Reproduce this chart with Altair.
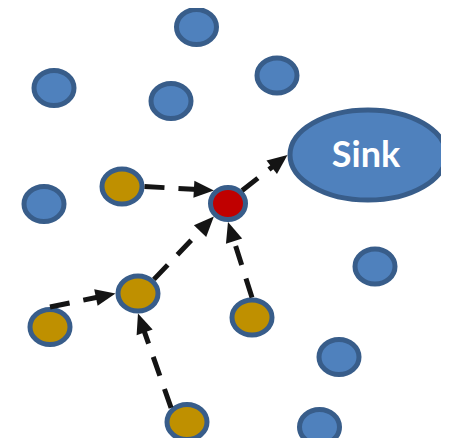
import math
import altair as alt
import pandas as pd

# ---- data (image pixel coordinates of node centres) ----
blue_x = [196.5, 54, 171, 277, 44, 375, 339, 319.5]
blue_y = [27, 88, 101, 75.5, 204, 266.5, 357, 427]
gold_x = [122, 138, 50, 252, 187]
gold_y = [186.5, 293.5, 327, 317.5, 422]
red_x = [228]
red_y = [203.5]
sink_x = [368]
sink_y = [155]
sink_label = ["Sink"]

# edges: (source kind, index, anchor) -> (target kind, index, anchor)
edge_src = [("gold", 0, "e"), ("gold", 1, "ne"), ("gold", 2, "n"),
            ("gold", 4, "nw"), ("gold", 3, "n"), ("red", 0, "ne")]
edge_tgt = [("red", 0, "nw"), ("red", 0, "sw"), ("gold", 1, "w"),
            ("gold", 1, "s"), ("red", 0, "s"), ("sink", 0, "w")]

# outer half axes of the shapes
half = {"blue": (22.5, 20), "gold": (22.5, 20), "red": (20, 18.5), "sink": (80.5, 47.5)}
pos = {"blue": (blue_x, blue_y), "gold": (gold_x, gold_y),
       "red": (red_x, red_y), "sink": (sink_x, sink_y)}
dirs = {"n": (0, -1), "s": (0, 1), "e": (1, 0), "w": (-1, 0),
        "ne": (0.7071, -0.7071), "nw": (-0.7071, -0.7071),
        "se": (0.7071, 0.7071), "sw": (-0.7071, 0.7071)}


def anchor(kind, i, a):
    xs, ys = pos[kind]
    ax, ay = half[kind]
    dx, dy = dirs[a]
    return xs[i] + ax * dx, ys[i] + ay * dy


ARROW_LEN = 20
lines, heads = [], []
for s, t in zip(edge_src, edge_tgt):
    x0, y0 = anchor(*s)
    x1, y1 = anchor(*t)
    L = math.hypot(x1 - x0, y1 - y0)
    ux, uy = (x1 - x0) / L, (y1 - y0) / L
    lines.append({"x": x0, "y": y0, "x2": x1 - ux * (ARROW_LEN - 4), "y2": y1 - uy * (ARROW_LEN - 4)})
    ang = math.degrees(math.atan2(uy, ux)) % 360
    heads.append({"x": x1 - ux * ARROW_LEN / 2, "y": y1 - uy * ARROW_LEN / 2, "angle": ang})

W, H = 433, 430
xs = alt.Scale(domain=[8, 8 + W])
ys = alt.Scale(domain=[8, 8 + H], reverse=True)


def ellipse(ratio):
    return f"M-1,0 A1,{ratio} 0 1,0 1,0 A1,{ratio} 0 1,0 -1,0 Z"


def nodes(xv, yv, fill, ratio, size):
    df = pd.DataFrame({"x": xv, "y": yv})
    return alt.Chart(df).mark_point(
        shape=ellipse(ratio), size=size, filled=True, fill=fill, fillOpacity=1,
        stroke="#385D8A", strokeWidth=5, strokeOpacity=1
    ).encode(x=alt.X("x:Q", scale=xs, axis=None), y=alt.Y("y:Q", scale=ys, axis=None))


blue = nodes(blue_x, blue_y, "#4F81BD", 0.875, 1600)
gold = nodes(gold_x, gold_y, "#BF9000", 0.875, 1600)
red = nodes(red_x, red_y, "#C00000", 0.914, 1225)
sink = nodes(sink_x, sink_y, "#4F81BD", 0.577, 156 * 156)

sink_text = alt.Chart(pd.DataFrame({"x": sink_x, "y": sink_y, "t": sink_label})).mark_text(
    font="Lato", fontWeight="bold", fontSize=36, color="white", baseline="alphabetic", align="center", dy=12, dx=-2
).encode(x=alt.X("x:Q", scale=xs, axis=None), y=alt.Y("y:Q", scale=ys, axis=None), text="t:N")

edge_lines = alt.Chart(pd.DataFrame(lines)).mark_rule(
    color="#141414", strokeWidth=5, strokeDash=[20, 14], strokeCap="butt"
).encode(x=alt.X("x:Q", scale=xs, axis=None), y=alt.Y("y:Q", scale=ys, axis=None), x2="x2:Q", y2="y2:Q")

edge_heads = alt.Chart(pd.DataFrame(heads)).mark_point(
    shape="M1,0 L-1,-0.85 L-1,0.85 Z", size=ARROW_LEN * ARROW_LEN, filled=True,
    fill="#141414", fillOpacity=1, strokeWidth=0
).encode(x=alt.X("x:Q", scale=xs, axis=None), y=alt.Y("y:Q", scale=ys, axis=None),
         angle=alt.Angle("angle:Q", scale=None))

chart = alt.layer(blue, gold, red, sink, sink_text, edge_lines, edge_heads).properties(
    width=W, height=H, padding=0, autosize=alt.AutoSizeParams(type="none"), background="white"
).configure_view(stroke=None)

chart.save("out.html", embed_options={"renderer": "svg", "actions": False})
